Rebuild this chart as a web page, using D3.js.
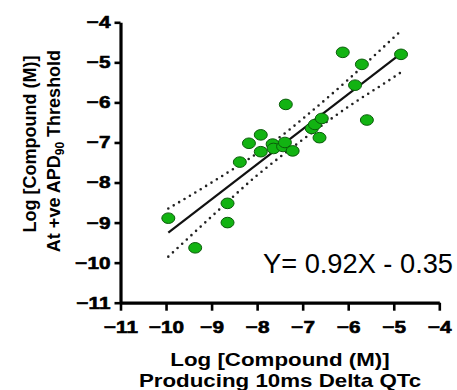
<!DOCTYPE html>
<html>
<head>
<meta charset="utf-8">
<script src="https://cdn.jsdelivr.net/npm/d3@7"></script>
<style>
    body { margin: 0; background: #fff; }
    text { font-family: "Liberation Sans", Arial, sans-serif; fill: #000; }
</style>
</head>
<body>
<script>
(function(){
    // Scatter data: x = log conc for 10ms delta QTc, y = log conc at APD90 threshold
    var pointX = [
        -9.95, -9.36, -8.65, -8.65, -8.38, -8.18, -7.92, -7.92, -7.66, -7.64,
        -7.43, -7.39, -7.22, -7.37, -6.80, -6.73, -6.58, -6.63, -6.12, -5.70,
        -5.85, -5.59, -4.84
    ];
    var pointY = [
        -8.89, -9.63, -8.52, -9.00, -7.49, -7.02, -6.81, -7.23, -7.04, -7.15,
        -7.10, -7.00, -7.21, -6.05, -6.65, -6.55, -6.40, -6.88, -4.75, -5.05,
        -5.57, -6.44, -4.80
    ];

    // Fitted line end points
    var fitX = [-9.95, -4.83];
    var fitY = [-9.25, -4.77];

    // Confidence band (dotted)
    var bandX     = [-9.95, -9, -8, -7.3, -7, -6, -5, -4.83];
    var bandUpper = [-8.65, -8.00, -7.27, -6.69, -6.41, -5.43, -4.38, -4.20];
    var bandLower = [-9.85, -8.85, -7.82, -7.19, -6.93, -6.11, -5.37, -5.24];

    // Axis ticks
    var xTicks = [-11, -10, -9, -8, -7, -6, -5, -4];
    var yTicks = [-11, -10, -9, -8, -7, -6, -5, -4];

    var equation = "Y= 0.92X - 0.35";

    var width = 457, height = 390;
    var stretch = 1.22; // source picture text is widened horizontally

    var svg = d3.select("body")
        .append("svg")
        .attr("width", width)
        .attr("height", height);

    svg.append("rect")
        .attr("width", width)
        .attr("height", height)
        .attr("fill", "#fff");

    var xScale = d3.scaleLinear().domain([-11, -4]).range([120.5, 439.3]);
    var yScale = d3.scaleLinear().domain([-11, -4]).range([302.7, 22.3]);

    //==========================================
    // BANDS & FIT LINE
    //==========================================
    var bandLine = d3.line()
        .x(function(d){ return xScale(d[0]); })
        .y(function(d){ return yScale(d[1]); })
        .curve(d3.curveMonotoneX);

    [bandUpper, bandLower].forEach(function(arr){
        svg.append("path")
            .attr("d", bandLine(bandX.map(function(x, i){ return [x, arr[i]]; })))
            .attr("fill", "none")
            .attr("stroke", "#222")
            .attr("stroke-width", 2.6)
            .attr("stroke-linecap", "round")
            .attr("stroke-dasharray", "0 6.3");
    });

    svg.append("path")
        .attr("d", bandLine(fitX.map(function(x, i){ return [x, fitY[i]]; })))
        .attr("fill", "none")
        .attr("stroke", "#111")
        .attr("stroke-width", 2.2);

    //==========================================
    // POINTS
    //==========================================
    svg.selectAll(".pt")
        .data(pointX.map(function(x, i){ return [x, pointY[i]]; }))
        .enter()
        .append("ellipse")
        .attr("class", "pt")
        .attr("cx", function(d){ return xScale(d[0]); })
        .attr("cy", function(d){ return yScale(d[1]); })
        .attr("rx", 6.5)
        .attr("ry", 5.3)
        .attr("fill", "#12b312")
        .attr("stroke", "#0b5c0b")
        .attr("stroke-width", 1);

    //==========================================
    // AXES
    //==========================================
    var xAxis = d3.axisBottom(xScale)
        .tickValues(xTicks)
        .tickSize(8)
        .tickSizeOuter(0)
        .tickPadding(10)
        .tickFormat(d3.format("d"));

    var yAxis = d3.axisLeft(yScale)
        .tickValues(yTicks)
        .tickSize(6)
        .tickSizeOuter(0)
        .tickPadding(4)
        .tickFormat(d3.format("d"));

    var gx = svg.append("g")
        .attr("transform", "translate(0,302.7)")
        .call(xAxis);

    var gy = svg.append("g")
        .attr("transform", "translate(120.5,0)")
        .call(yAxis);

    [gx, gy].forEach(function(g){
        g.attr("font-family", "'Liberation Sans', Arial, sans-serif")
            .attr("font-size", 17)
            .attr("font-weight", "bold");
        g.select(".domain").attr("stroke", "#000").attr("stroke-width", 3.2);
        g.selectAll(".tick line").attr("stroke", "#000").attr("stroke-width", 2.6);
        // thicken a little: the source labels are very heavy
        g.selectAll(".tick text")
            .attr("fill", "#000")
            .attr("stroke", "#000")
            .attr("stroke-width", 0.6);
    });

    // widen tick labels like the source
    gx.selectAll(".tick text").attr("transform", "scale(" + stretch + ",1)");
    gy.selectAll(".tick text")
        .attr("x", -10 / stretch)
        .attr("transform", "scale(" + stretch + ",1)");

    //==========================================
    // TITLES
    //==========================================
    var xTitle = svg.append("g")
        .attr("font-weight", "bold")
        .attr("font-size", 18)
        .attr("text-anchor", "middle");

    xTitle.append("text")
        .attr("transform", "translate(280,365.5) scale(1.24,1)")
        .text("Log [Compound (M)]");
    xTitle.append("text")
        .attr("transform", "translate(280,387) scale(1.24,1)")
        .text("Producing 10ms Delta QTc");

    var yTitle = svg.append("g")
        .attr("font-weight", "bold")
        .attr("font-size", 18)
        .attr("text-anchor", "middle");

    yTitle.append("text")
        .attr("transform", "translate(36,144) rotate(-90)")
        .text("Log [Compound (M)]");

    var y2 = yTitle.append("text")
        .attr("transform", "translate(59.5,151) rotate(-90)");
    y2.append("tspan").text("At +ve APD");
    y2.append("tspan").attr("font-size", 12).attr("dy", 4).text("90");
    y2.append("tspan").attr("dy", -4).text(" Threshold");

    // Regression equation
    svg.append("text")
        .attr("x", 263)
        .attr("y", 273)
        .attr("font-family", "'Open Sans', 'Noto Sans', sans-serif")
        .attr("font-weight", 300)
        .attr("font-size", 28)
        .attr("textLength", 190)
        .attr("lengthAdjust", "spacingAndGlyphs")
        .text(equation);
})();
</script>
</body>
</html>
